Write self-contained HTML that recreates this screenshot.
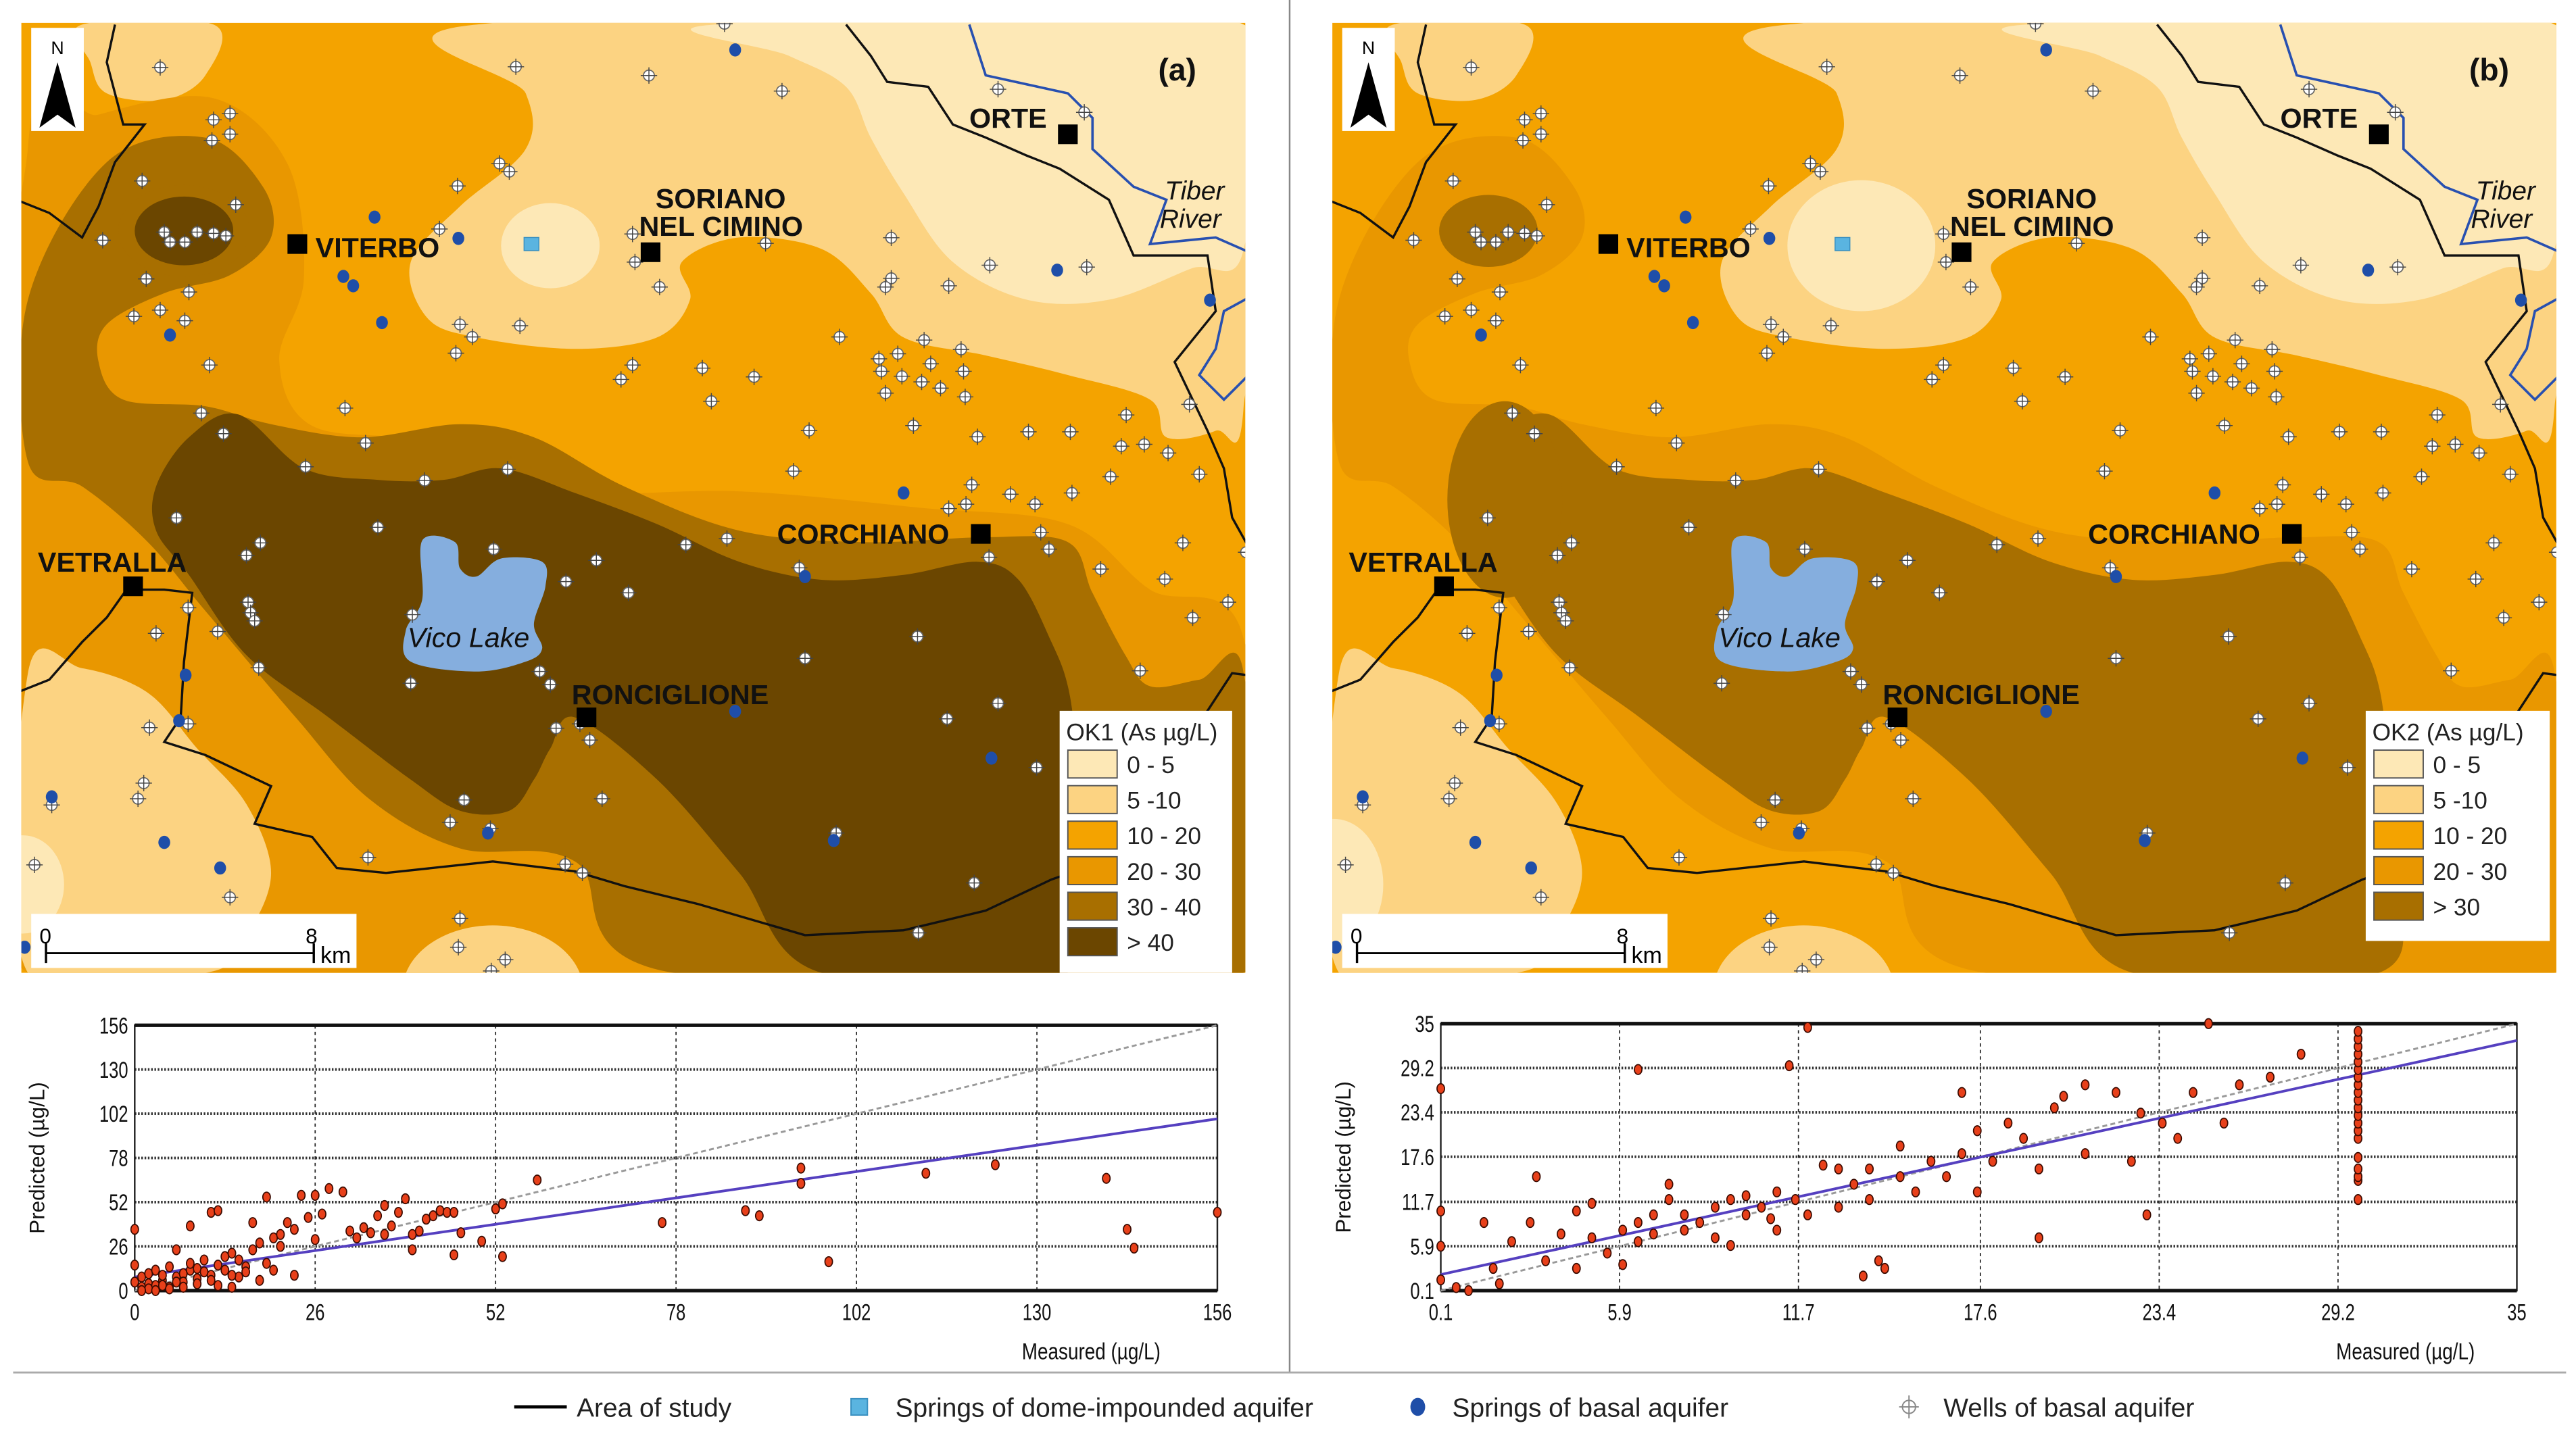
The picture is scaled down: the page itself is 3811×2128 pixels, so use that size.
<!DOCTYPE html>
<html><head><meta charset="utf-8"><title>OK1 / OK2 arsenic maps</title>
<style>
html,body{margin:0;padding:0;background:#fff;}
svg{display:block;}
text{font-family:"Liberation Sans",sans-serif;}
</style></head>
<body>
<svg id="root" width="3811" height="2128" viewBox="0 0 1568 878" preserveAspectRatio="none" xmlns="http://www.w3.org/2000/svg">
<rect x="0" y="0" width="1568" height="878" fill="#fff"/>
<g id="mapA"></g>
<g id="mapB"></g>
<line x1="785" y1="0" x2="785" y2="838" stroke="#888" stroke-width="1"/>
<line x1="8" y1="838" x2="1562" y2="838" stroke="#aaa" stroke-width="1.2"/>
<g id="plotA"></g>
<g id="plotB"></g>
<g id="legend">
  <line x1="313" y1="859" x2="345" y2="859" stroke="#000" stroke-width="2"/>
  <text x="351" y="865" font-size="16" fill="#222">Area of study</text>
  <rect x="518" y="854" width="10" height="10" fill="#5ab4e0" stroke="#3a90c0" stroke-width="0.8"/>
  <text x="545" y="865" font-size="16" fill="#222">Springs of dome-impounded aquifer</text>
  <ellipse cx="863" cy="859" rx="4.5" ry="5.5" fill="#1f4ea8"/>
  <text x="884" y="865" font-size="16" fill="#222">Springs of basal aquifer</text>
  <g><circle cx="1162" cy="859" r="4" fill="#fff" stroke="#888" stroke-width="0.8"/><line x1="1156" y1="859" x2="1168" y2="859" stroke="#888" stroke-width="0.8"/><line x1="1162" y1="852" x2="1162" y2="866" stroke="#888" stroke-width="0.8"/></g>
  <text x="1183" y="865" font-size="16" fill="#222">Wells of basal aquifer</text>
</g>
</svg>
<script>
// ---------- scatter data ----------
const okMeasured1 = [0,0,0,1,1,2,2,3,3,4,4,5,5,6,6,7,7,8,8,8,9,9,10,10,11,11,12,12,13,13,14,14,15,15,16,17,17,18,18,19,19,20,20,21,21,22,23,23,24,25,26,26,27,28,30,31,32,33,34,35,36,36,37,38,39,40,40,41,42,43,44,45,46,46,47,50,52,53,53,58,76,88,90,96,96,114,124,140,143,144,100,156,2,4,6,3,5,1,7,9,11,12,14,16];
const okPredicted1 = [36,15,5,2,8,4,10,3,12,6,9,14,2,8,24,10,5,12,16,38,7,13,11,18,9,46,15,47,20,12,22,2,18,8,14,40,24,28,6,55,16,31,12,33,26,40,36,9,56,43,56,30,45,60,58,35,31,37,34,44,50,33,38,46,54,33,24,35,42,44,47,46,46,21,34,29,48,51,20,65,40,47,44,72,63,69,74,66,36,25,17,46,1,3,5,0,1,0,2,4,6,3,9,11];
const okTicks1 = [0,26,52,78,104,130,156];
const okTickLabels1 = ["0","26","52","78","102","130","156"];
const okMeasured2 = [0.1,0.1,0.1,0.1,0.6,1,1.8,2.4,3,3.5,4,4.5,5,5,5.5,6,6,6.5,6.5,7,7,7.5,8,8,8.5,9,9,9.5,10,10,10.5,11,11,11.4,11.6,12,12.5,12,13,13,13.5,14,14,14.3,14.5,15,15,15.5,16,16.5,17,17.5,17.5,18,18.5,19,19.5,20,20.3,21,21,22,22.5,23,23.5,24,24.5,25,25.5,26,27,28,3.2,4.5,7.5,2,6.5,1.5,9.5,10.8,17,13.8,19.5,22.8];
const okPredicted2 = [10.5,26.5,5.9,1.5,0.5,0.1,3,6.5,9,4,7.5,10.5,7,11.5,5,8,3.5,6.5,9,7.5,10,12,8,10,9,11,7,12,10,12.5,11,8,13,29.5,12,10,16.5,34.5,11,16,14,12,16,4,3,15,19,13,17,15,18,13,21,17,22,20,16,24,25.5,27,18,26,17,10,22,20,26,35,22,27,28,31,15,3,14,1,29,9,6,9.5,26,2,7,23.3];
const okColumnMeasured2 = [29.85,29.85,29.85,29.85,29.85,29.85,29.85,29.85,29.85,29.85,29.85,29.85,29.85,29.85,29.85,29.85,29.85,29.85,29.85,29.85];
const okColumnPredicted2 = [12,14.5,15,16,17.5,20,21,22,23,24,25,26,27,28,29,30,31,32,33,34];
const okTicks2 = [0.1,5.9,11.7,17.6,23.4,29.2,35];
const okTickLabels2 = ["0.1","5.9","11.7","17.6","23.4","29.2","35"];
const regA = [[0,8],[156,101]];
const regB = [[0.1,2.2],[35,32.8]];

const NS="http://www.w3.org/2000/svg";
function mk(tag, attrs, parent){const e=document.createElementNS(NS,tag);for(const k in attrs)e.setAttribute(k,attrs[k]);if(parent)parent.appendChild(e);return e;}

function drawPlot(gid, opt){
  const g=document.getElementById(gid);
  const {x0,x1,y0,y1,min,max,ticks,labels,mx,my,cx,cy,reg,ytitleX,mlabX}=opt;
  const sx=v=>x0+(v-min)/(max-min)*(x1-x0);
  const sy=v=>y1-(v-min)/(max-min)*(y1-y0);
  const bg=mk('rect',{x:x0,y:y0,width:x1-x0,height:y1-y0,fill:'#fff'},g);
  
  
  ticks.forEach((t,i)=>{
    if(i>0&&i<ticks.length-1){
      const vl=mk('line',{x1:sx(t),x2:sx(t),y1:y0,y2:y1,stroke:'#222','stroke-width':0.7,'stroke-dasharray':'2,2'},g);
      
      
      const hl=mk('line',{x1:x0,x2:x1,y1:sy(t),y2:sy(t),stroke:'#333','stroke-width':1.6,'stroke-dasharray':'1,1'},g);
      
      
    }
    const xt=mk('text',{x:sx(t),y:y1+18,'font-size':14,'text-anchor':'middle',fill:'#111',transform:`translate(${sx(t)},0) scale(0.75,1) translate(${-sx(t)},0)`},g);
    xt.textContent=labels[i];
    
    
    const yt=mk('text',{x:x0-4,y:sy(t)+5,'font-size':14,'text-anchor':'end',fill:'#111',transform:`translate(${x0-4},0) scale(0.75,1) translate(${-(x0-4)},0)`},g);
    yt.textContent=labels[i];
    
    
  });
  const fr=mk('rect',{x:x0,y:y0,width:x1-x0,height:y1-y0,fill:'none',stroke:'#222','stroke-width':1},g);
  
  
  const tb=mk('line',{x1:x0,x2:x1,y1:y0,y2:y0,stroke:'#111','stroke-width':2.2},g);
  
  
  const bb=mk('line',{x1:x0,x2:x1,y1:y1,y2:y1,stroke:'#111','stroke-width':2.2},g);
  
  
  const id=mk('line',{x1:sx(min),y1:sy(min),x2:sx(max),y2:sy(max),stroke:'#999','stroke-width':1.2,'stroke-dasharray':'3,2'},g);
  
  
  const rl=mk('line',{x1:sx(reg[0][0]),y1:sy(reg[0][1]),x2:sx(reg[1][0]),y2:sy(reg[1][1]),stroke:'#5540c0','stroke-width':1.6},g);
  
  
  const all=[[mx,my],[cx||[],cy||[]]];
  all.forEach(([xs,ys])=>xs.forEach((v,i)=>{
    const p=mk('ellipse',{cx:sx(v),cy:sy(ys[i]),rx:2.3,ry:3,fill:'#e8401a',stroke:'#3a0a00','stroke-width':0.7},g);
    
    
  }));
  const yt=mk('text',{x:ytitleX,y:(y0+y1)/2,'font-size':13,'text-anchor':'middle',fill:'#111',transform:`rotate(-90 ${ytitleX} ${(y0+y1)/2})`},g);
  yt.textContent='Predicted (µg/L)';
  
  
  const xt=mk('text',{x:mlabX,y:830,'font-size':14,fill:'#111',transform:`translate(${mlabX},0) scale(0.82,1) translate(${-mlabX},0)`},g);
  xt.textContent='Measured (µg/L)';
  
  
}
drawPlot('plotA',{x0:82,x1:741,y0:626,y1:788,min:0,max:156,ticks:okTicks1,labels:okTickLabels1,mx:okMeasured1,my:okPredicted1,reg:regA,ytitleX:27,mlabX:622});
drawPlot('plotB',{x0:877,x1:1532,y0:625,y1:788,min:0.1,max:35,ticks:okTicks2,labels:okTickLabels2,mx:okMeasured2,my:okPredicted2,cx:okColumnMeasured2,cy:okColumnPredicted2,reg:regB,ytitleX:822,mlabX:1422});

// ---------- maps ----------
const P = a => 'M'+a.map(p=>p.join(',')).join(' L')+' Z';
function smooth(pts){ // closed catmull-rom
  let d='M'+pts[0].join(',');
  const n=pts.length;
  for(let i=0;i<n;i++){
    const p0=pts[(i-1+n)%n],p1=pts[i],p2=pts[(i+1)%n],p3=pts[(i+2)%n];
    const c1=[p1[0]+(p2[0]-p0[0])/6,p1[1]+(p2[1]-p0[1])/6];
    const c2=[p2[0]-(p3[0]-p1[0])/6,p2[1]-(p3[1]-p1[1])/6];
    d+=` C${c1[0].toFixed(1)},${c1[1].toFixed(1)} ${c2[0].toFixed(1)},${c2[1].toFixed(1)} ${p2[0]},${p2[1]}`;
  }
  return d+'Z';
}
const shp = {
  z2030:[[17,90],[60,70],[130,60],[175,100],[185,170],[170,220],[190,260],[260,270],[330,300],[450,300],[560,310],[650,320],[700,360],[757,390],[757,594],[17,594]],
  z3040:[[17,183],[65,99],[125,84],[160,114],[165,145],[140,168],[100,179],[65,198],[60,221],[75,244],[125,248],[165,259],[220,267],[280,259],[325,267],[380,297],[450,324],[525,331],[600,328],[650,331],[665,362],[685,400],[700,419],[730,415],[757,411],[757,594],[410,594],[350,526],[280,518],[225,488],[180,438],[125,373],[90,331],[50,297],[17,282]],
  z40:[[95,297],[115,267],[145,253],[185,286],[230,293],[270,293],[305,286],[350,301],[400,320],[450,343],[500,354],[550,351],[595,343],[620,354],[640,392],[650,419],[655,457],[660,533],[650,594],[500,594],[450,533],[400,476],[350,438],[335,457],[325,476],[310,495],[280,495],[250,476],[200,438],[150,400],[115,351],[95,324]],
  z510:[[290,15],[320,57],[320,91],[280,126],[250,160],[260,194],[290,206],[350,213],[400,206],[420,183],[415,160],[450,145],[500,152],[530,179],[550,206],[600,217],[650,229],[700,244],[710,267],[740,263],[757,248],[757,15]],
  z510b:[[50,15],[130,15],[125,46],[100,61],[65,57],[55,38]],
  z510c:[[17,411],[50,408],[90,423],[120,457],[150,491],[165,533],[150,571],[125,594],[17,594]],
  z05:[[435,15],[480,34],[515,53],[530,84],[550,118],[580,160],[625,183],[675,183],[725,164],[757,152],[757,15]],
  lake:[[257,330],[277,331],[280,347],[290,352],[305,341],[330,343],[332,358],[325,381],[330,396],[320,404],[290,410],[250,404],[247,385],[257,366]],
  border1:[[10,423],[30,415],[50,392],[65,377],[77,360],[100,360],[117,362],[112,404],[110,438],[100,453],[125,461],[165,480],[155,503],[190,511],[205,530],[235,533],[300,526],[350,532],[380,541],[425,552],[490,571],[550,568],[600,556],[640,537],[660,530],[700,507],[720,457],[750,411],[765,413]],
  border2:[[515,15],[530,34],[540,50],[565,53],[580,76],[600,84],[625,95],[645,103],[675,122],[690,156],[735,156],[740,190],[715,221],[735,263],[745,286],[750,316],[765,343]],
  border3:[[70,15],[65,38],[75,76],[88,76],[70,99],[60,126],[50,145],[30,130],[10,122]],
  river1:[[590,15],[600,46],[650,57],[665,72],[665,91],[690,114],[710,122],[700,149],[740,145],[765,156]],
  river2:[[765,179],[745,190],[740,213],[730,229],[745,244],[760,229],[765,221]]
};
const wellsDisp=[[195,108],[628,107],[790,121],[952,146],[882,38],[1215,143],[1320,180],[260,192],[280,182],[258,225],[280,215],[173,290],[287,328],[125,385],[200,372],[207,388],[225,388],[240,372],[260,374],[275,378],[178,447],[230,468],[163,507],[195,497],[225,514],[255,585],[245,662],[272,695],[420,654],[445,710],[372,748],[517,770],[618,752],[557,298],[608,262],[620,275],[535,367],[560,520],[575,540],[555,566],[633,522],[770,375],[773,420],[803,460],[932,390],[1085,381],[1085,446],[1078,460],[1155,458],[1205,425],[1323,428],[1022,540],[1125,545],[1170,560],[1070,575],[1093,567],[1073,595],[1098,603],[1133,583],[1173,595],[1122,612],[1145,622],[1175,636],[1078,630],[770,585],[756,608],[855,590],[918,604],[866,643],[985,690],[1112,682],[1190,700],[1252,692],[1303,692],[1371,665],[1448,648],[1365,715],[1393,712],[1422,726],[1460,760],[1352,764],[1305,790],[1260,808],[1230,792],[1183,777],[1176,808],[1155,815],[966,755],[460,845],[215,830],[317,870],[300,890],[601,880],[726,898],[689,932],[765,950],[835,873],[885,863],[973,910],[1204,893],[1267,853],[1277,880],[1340,912],[1418,928],[1440,870],[1517,885],[1495,965],[1452,990],[1388,1075],[1117,1020],[980,1055],[1215,1127],[1153,1152],[1262,1230],[1186,1415],[1118,1495],[1018,1335],[733,1280],[565,1282],[548,1318],[597,1328],[688,1385],[709,1399],[448,1374],[500,1095],[657,1076],[670,1097],[677,1167],[706,1160],[718,1186],[302,965],[305,982],[310,995],[315,1070],[265,1012],[229,974],[190,1015],[182,1166],[229,1160],[175,1255],[168,1280],[63,1290],[42,1386],[280,1438],[560,1472],[558,1518],[615,1538],[598,1556],[502,985]];
const springsDisp=[[895,80],[456,348],[558,382],[418,443],[430,458],[465,517],[207,537],[1287,433],[1473,481],[1100,790],[980,924],[226,1082],[218,1155],[895,1140],[1207,1215],[1015,1347],[594,1335],[200,1350],[268,1391],[63,1277],[30,1518]];
const cities=[["VITERBO",181,149,192,157],["ORTE",650,82,590,78],["CORCHIANO",597,326,473,332],["VETRALLA",81,358,23,349],["RONCIGLIONE",357,438,348,430],["SORIANO",396,154,null,null]];

function drawMap(gid,dx,cfg){
  const g=document.getElementById(gid);
  const clipId='clip'+gid;
  const cp=mk('clipPath',{id:clipId},g); mk('rect',{x:13,y:14,width:745,height:580},cp);
  const m=mk('g',{transform:`translate(${dx},0)`,'clip-path':`url(#${clipId})`},g);
  const base=mk('rect',{x:0,y:0,width:780,height:600,fill:'#f4a300'},m);
  
  
  cfg.layers.forEach(([key,fill,name])=>{
    const p=mk('path',{d:smooth(shp[key]),fill:fill},m);
    
    
  });
  cfg.ellipses.forEach(([x,y,rx,ry,fill,name])=>{
    const e=mk('ellipse',{cx:x,cy:y,rx:rx,ry:ry,fill:fill},m);
    
    
  });
  const lake=mk('path',{d:smooth(shp.lake),fill:'#85aede'},m);
  
  
  ['border1','border2','border3'].forEach(k=>{
    const b=mk('polyline',{points:shp[k].map(p=>p.join(',')).join(' '),fill:'none',stroke:'#111','stroke-width':1.4},m);
    
    
  });
  ['river1','river2'].forEach(k=>{
    const r=mk('polyline',{points:shp[k].map(p=>p.join(',')).join(' '),fill:'none',stroke:'#2850b0','stroke-width':1.5},m);
    
    
  });
  wellsDisp.forEach(([x,y])=>{
    const px=x*0.5, py=y*0.381;
    const w=mk('g',{},m);
    
    
    mk('circle',{cx:px,cy:py,r:3.3,fill:'#fff',stroke:'#666','stroke-width':0.7},w);
    mk('line',{x1:px-5,x2:px+5,y1:py,y2:py,stroke:'#444','stroke-width':0.6},w);
    mk('line',{x1:px,x2:px,y1:py-5,y2:py+5,stroke:'#444','stroke-width':0.6},w);
  });
  springsDisp.forEach(([x,y])=>{
    const s=mk('ellipse',{cx:x*0.5,cy:y*0.381,rx:3.6,ry:4,fill:'#1f4ea8'},m);
    
    
  });
  const ds=mk('rect',{x:319,y:145,width:9,height:8,fill:'#5ab4e0',stroke:'#3a90c0','stroke-width':0.6},m);
  
  
  cities.forEach(([n,sx,sy,lx,ly])=>{
    const sq=mk('rect',{x:sx-6,y:sy-6,width:12,height:12,fill:'#000'},m);
    
    
    if(lx!==null){
      const t=mk('text',{x:lx,y:ly,'font-size':17,'font-weight':'bold',fill:'#111'},m);
      t.textContent=n;
      
      
    }
  });
  const s1=mk('text',{x:399,y:127,'font-size':17,'font-weight':'bold',fill:'#111'},m); s1.textContent='SORIANO';
  
  
  const s2=mk('text',{x:389,y:144,'font-size':17,'font-weight':'bold',fill:'#111'},m); s2.textContent='NEL CIMINO';
  
  
  const vl=mk('text',{x:248,y:395,'font-size':17,'font-style':'italic',fill:'#111'},m); vl.textContent='Vico Lake';
  
  
  const r1=mk('text',{x:709,y:122,'font-size':16,'font-style':'italic',fill:'#111'},m); r1.textContent='Tiber';
  
  
  const r2=mk('text',{x:706,y:139,'font-size':16,'font-style':'italic',fill:'#111'},m); r2.textContent='River';
  
  
  const pl=mk('text',{x:705,y:49,'font-size':19,'font-weight':'bold',fill:'#111'},m); pl.textContent=cfg.letter;
  
  
  // north arrow
  const na=mk('g',{},m);
  
  
  mk('rect',{x:19,y:17,width:32,height:63,fill:'#fff'},na);
  const nt=mk('text',{x:35,y:33,'font-size':11,'text-anchor':'middle','font-family':'Liberation Serif, serif',fill:'#000'},na); nt.textContent='N';
  mk('path',{d:'M35,38 L24,78 L35,70 L46,78 Z',fill:'#000'},na);
  // scale bar
  const sb=mk('g',{},m);
  
  
  mk('rect',{x:19,y:558,width:198,height:33,fill:'#fff'},sb);
  mk('line',{x1:28,x2:191,y1:582,y2:582,stroke:'#000','stroke-width':1.2},sb);
  mk('line',{x1:28,x2:28,y1:576,y2:588,stroke:'#000','stroke-width':1.4},sb);
  mk('line',{x1:191,x2:191,y1:576,y2:588,stroke:'#000','stroke-width':1.4},sb);
  const t0=mk('text',{x:24,y:576,'font-size':13,fill:'#000'},sb); t0.textContent='0';
  const t8=mk('text',{x:186,y:576,'font-size':13,fill:'#000'},sb); t8.textContent='8';
  const tk=mk('text',{x:195,y:588,'font-size':14,fill:'#000'},sb); tk.textContent='km';
  // map legend
  const L=cfg.legend;
  const lg=mk('g',{},m);
  
  
  mk('rect',{x:L.x,y:434,width:L.w,height:22+L.items.length*21.7+10,fill:'#fff'},lg);
  const lt=mk('text',{x:L.x+4,y:452,'font-size':14.5,fill:'#222'},lg); lt.textContent=L.title;
  L.items.forEach(([c,lab],i)=>{
    const y=458+i*21.7;
    const sw=mk('rect',{x:L.x+5,y:y,width:30,height:17,fill:c,stroke:'#555','stroke-width':0.8},lg);
    
    
    const tx=mk('text',{x:L.x+41,y:y+14,'font-size':14.5,fill:'#222'},lg); tx.textContent=lab;
    
    
  });
}
drawMap('mapA',0,{letter:'(a)',
  layers:[['z510','#fcd382','zone-5-10'],['z510b','#fcd382','zone-5-10'],['z05','#fde8b6','zone-0-5'],['z2030','#e99700','zone-20-30'],['z510c','#fcd382','zone-5-10'],['z3040','#a86f00','zone-30-40'],['z40','#6b4600','zone-over-40']],
  ellipses:[[335,150,30,26,'#fde8b6','zone-0-5'],[300,605,55,40,'#fcd382','zone-5-10'],[14,540,25,30,'#fde8b6','zone-0-5'],[112,141,40,28,'#a86f00','zone-30-40'],[112,141,30,21,'#6b4600','zone-over-40']],
  legend:{x:645,w:105,title:'OK1 (As µg/L)',items:[['#fde8b6','0 - 5'],['#fcd382','5 -10'],['#f4a300','10 - 20'],['#e99700','20 - 30'],['#a86f00','30 - 40'],['#6b4600','> 40']]}
});
drawMap('mapB',798,{letter:'(b)',
  layers:[['z510','#fcd382','zone-5-10'],['z510b','#fcd382','zone-5-10'],['z05','#fde8b6','zone-0-5'],['z510c','#fcd382','zone-5-10'],['z3040','#e99700','zone-20-30'],['z40','#a86f00','zone-over-30']],
  ellipses:[[335,150,45,40,'#fde8b6','zone-0-5'],[300,605,55,40,'#fcd382','zone-5-10'],[14,540,30,40,'#fde8b6','zone-0-5'],[118,305,35,60,'#a86f00','zone-over-30'],[108,141,30,22,'#a86f00','zone-over-30']],
  legend:{x:642,w:112,title:'OK2 (As µg/L)',items:[['#fde8b6','0 - 5'],['#fcd382','5 -10'],['#f4a300','10 - 20'],['#e99700','20 - 30'],['#a86f00','> 30']]}
});
</script>
</body></html>
